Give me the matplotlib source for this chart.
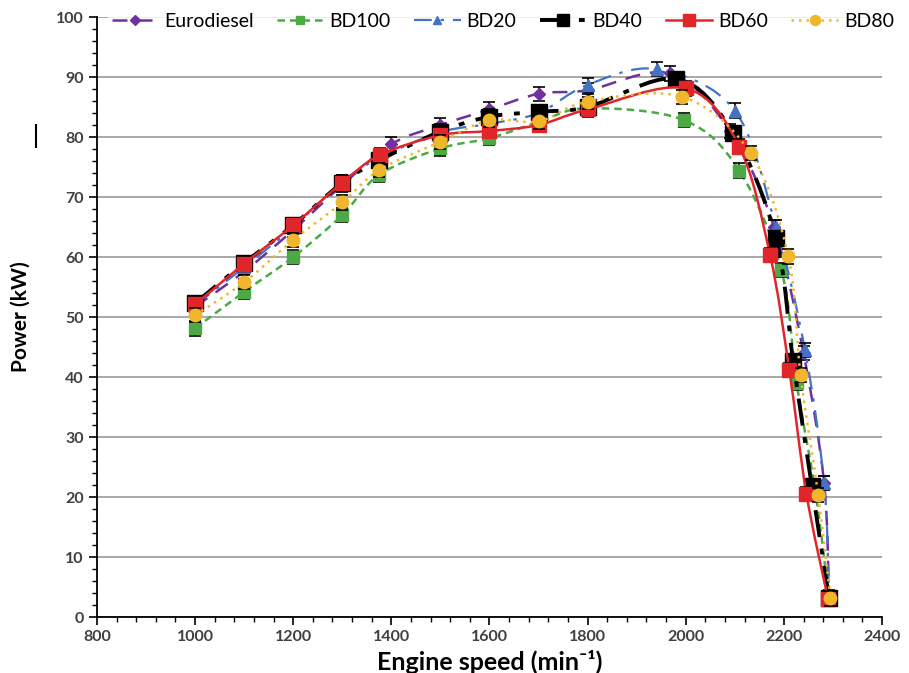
import matplotlib.pyplot as plt
import matplotlib
import numpy as np
from matplotlib.path import Path
from matplotlib.patches import PathPatch
from matplotlib.lines import Line2D
from matplotlib.ticker import MultipleLocator

matplotlib.rcParams.update({
    "font.family": ["Lato", "DejaVu Sans"],
    "font.size": 12,
})

# engine speed (min-1) and power (kW) per fuel
euro_x = [1000, 1100, 1200, 1300, 1400, 1500, 1600, 1700, 1800, 1968, 2090, 2180, 2240, 2282, 2292]
euro_y = [51.7, 57.6, 64.5, 72.0, 78.8, 82.0, 84.6, 87.2, 87.8, 90.6, 81.0, 65.0, 44.0, 22.3, 3.2]

bd100_x = [1000, 1100, 1200, 1300, 1375, 1500, 1600, 1700, 1800, 1997, 2109, 2195, 2226, 2265, 2292]
bd100_y = [48.1, 54.2, 60.0, 67.0, 73.7, 78.1, 79.8, 82.5, 84.8, 82.8, 74.4, 57.8, 39.0, 20.5, 3.0]

bd20_x = [1000, 1100, 1200, 1300, 1375, 1500, 1600, 1700, 1800, 1942, 2100, 2184, 2243, 2282, 2292]
bd20_y = [52.0, 58.3, 65.0, 72.5, 76.5, 80.8, 82.2, 84.0, 88.7, 91.3, 84.4, 65.0, 44.5, 22.3, 3.3]

bd40_x = [1000, 1100, 1200, 1300, 1375, 1500, 1600, 1700, 1800, 1981, 2097, 2184, 2219, 2257, 2292]
bd40_y = [52.3, 59.0, 65.3, 72.4, 76.1, 80.9, 83.4, 84.2, 85.0, 89.7, 80.6, 63.1, 42.6, 21.8, 3.2]

bd60_x = [1000, 1100, 1200, 1300, 1377, 1500, 1600, 1700, 1800, 2000, 2109, 2172, 2211, 2246, 2290]
bd60_y = [52.1, 58.9, 65.3, 72.4, 77.0, 80.3, 81.0, 82.0, 84.6, 88.1, 78.4, 60.3, 41.2, 20.5, 3.0]

bd80_x = [1000, 1100, 1200, 1300, 1375, 1500, 1600, 1700, 1800, 1993, 2132, 2209, 2234, 2270, 2295]
bd80_y = [50.3, 55.8, 62.8, 69.1, 74.5, 79.2, 82.8, 82.6, 85.9, 86.7, 77.3, 60.1, 40.3, 20.3, 3.1]

err = 1.2

series = [
    ("Eurodiesel", euro_x, euro_y, dict(color="#7030A0", ls=(0, (6, 4)), lw=1.8, marker="D", ms=6)),
    ("BD100", bd100_x, bd100_y, dict(color="#4CA944", ls=(0, (3, 2)), lw=1.8, marker="s", ms=8)),
    ("BD20", bd20_x, bd20_y, dict(color="#4472C4", ls=(0, (8, 4, 1.5, 4)), lw=1.6, marker="^", ms=8)),
    ("BD40", bd40_x, bd40_y, dict(color="black", ls=(0, (7, 3, 1.5, 3)), lw=2.8, marker="s", ms=11)),
    ("BD60", bd60_x, bd60_y, dict(color="#E0262B", ls="-", lw=1.8, marker="s", ms=10)),
    ("BD80", bd80_x, bd80_y, dict(color="#F0B62C", ls=(0, (1, 2)), lw=1.8, marker="o", ms=9)),
]


def smooth_path(xs, ys):
    # Catmull-Rom style bezier through the points, like a spreadsheet smoothed line
    p = np.column_stack([xs, ys]).astype(float)
    verts = [p[0]]
    codes = [Path.MOVETO]
    n = len(p)
    for i in range(n - 1):
        p0 = p[i - 1] if i > 0 else p[i]
        p3 = p[i + 2] if i + 2 < n else p[i + 1]
        c1 = p[i] + (p[i + 1] - p0) / 6.0
        c2 = p[i + 1] - (p3 - p[i]) / 6.0
        verts += [c1, c2, p[i + 1]]
        codes += [Path.CURVE4] * 3
    return Path(verts, codes)


fig = plt.figure(figsize=(9.09, 6.73), dpi=100)
ax = fig.add_axes([0.1067, 0.0832, 0.8636, 0.8915])

handles = []
for i, (name, xs, ys, st) in enumerate(series):
    z = 3 + i
    ax.add_patch(PathPatch(smooth_path(xs, ys), fill=False, edgecolor=st["color"],
                           linestyle=st["ls"], lw=st["lw"], zorder=z))
    ax.errorbar(xs, ys, yerr=err, fmt="none", ecolor="black", elinewidth=1.2,
                capsize=4, capthick=1.2, zorder=z)
    ax.plot(xs, ys, ls="none", marker=st["marker"], ms=st["ms"], color=st["color"],
            mec=st["color"], zorder=z + 0.5)
    handles.append(Line2D([], [], color=st["color"], ls=st["ls"], lw=st["lw"],
                          marker=st["marker"], ms=st["ms"] * 0.8, mec=st["color"]))

ax.set_xlim(800, 2400)
ax.set_ylim(0, 100)
ax.xaxis.set_major_locator(MultipleLocator(200))
ax.xaxis.set_minor_locator(MultipleLocator(40))
ax.yaxis.set_major_locator(MultipleLocator(10))
ax.yaxis.set_minor_locator(MultipleLocator(2))
ax.tick_params(which="major", direction="out", length=6, width=1.2, colors="black",
               labelcolor="#404040", labelsize=11.5)
ax.tick_params(which="minor", direction="out", length=3.5, width=1)
for lab in ax.get_xticklabels() + ax.get_yticklabels():
    lab.set_fontweight("bold")

ax.grid(True, axis="y", color="#9a9a9a", lw=1.2, zorder=0)
for s in ["top", "right"]:
    ax.spines[s].set_visible(False)
ax.spines["left"].set_linewidth(1.3)
ax.spines["bottom"].set_linewidth(1.3)

ax.set_xlabel("Engine speed (min⁻¹)", fontsize=18, fontweight="bold", labelpad=4)
ax.set_ylabel("Power (kW)", fontsize=15, fontweight="bold", labelpad=18)

fig.legend(handles, [s[0] for s in series], loc="center", bbox_to_anchor=(0.553, 0.968),
           ncol=6, frameon=True, facecolor="white", edgecolor="none", fontsize=14,
           handlelength=2.4, columnspacing=1.2, handletextpad=0.3, borderpad=0.2)

fig.add_artist(Line2D([0.04, 0.04], [1 - 125 / 673, 1 - 147 / 673], color="black", lw=1.5))

fig.savefig("out.png", dpi=100)
